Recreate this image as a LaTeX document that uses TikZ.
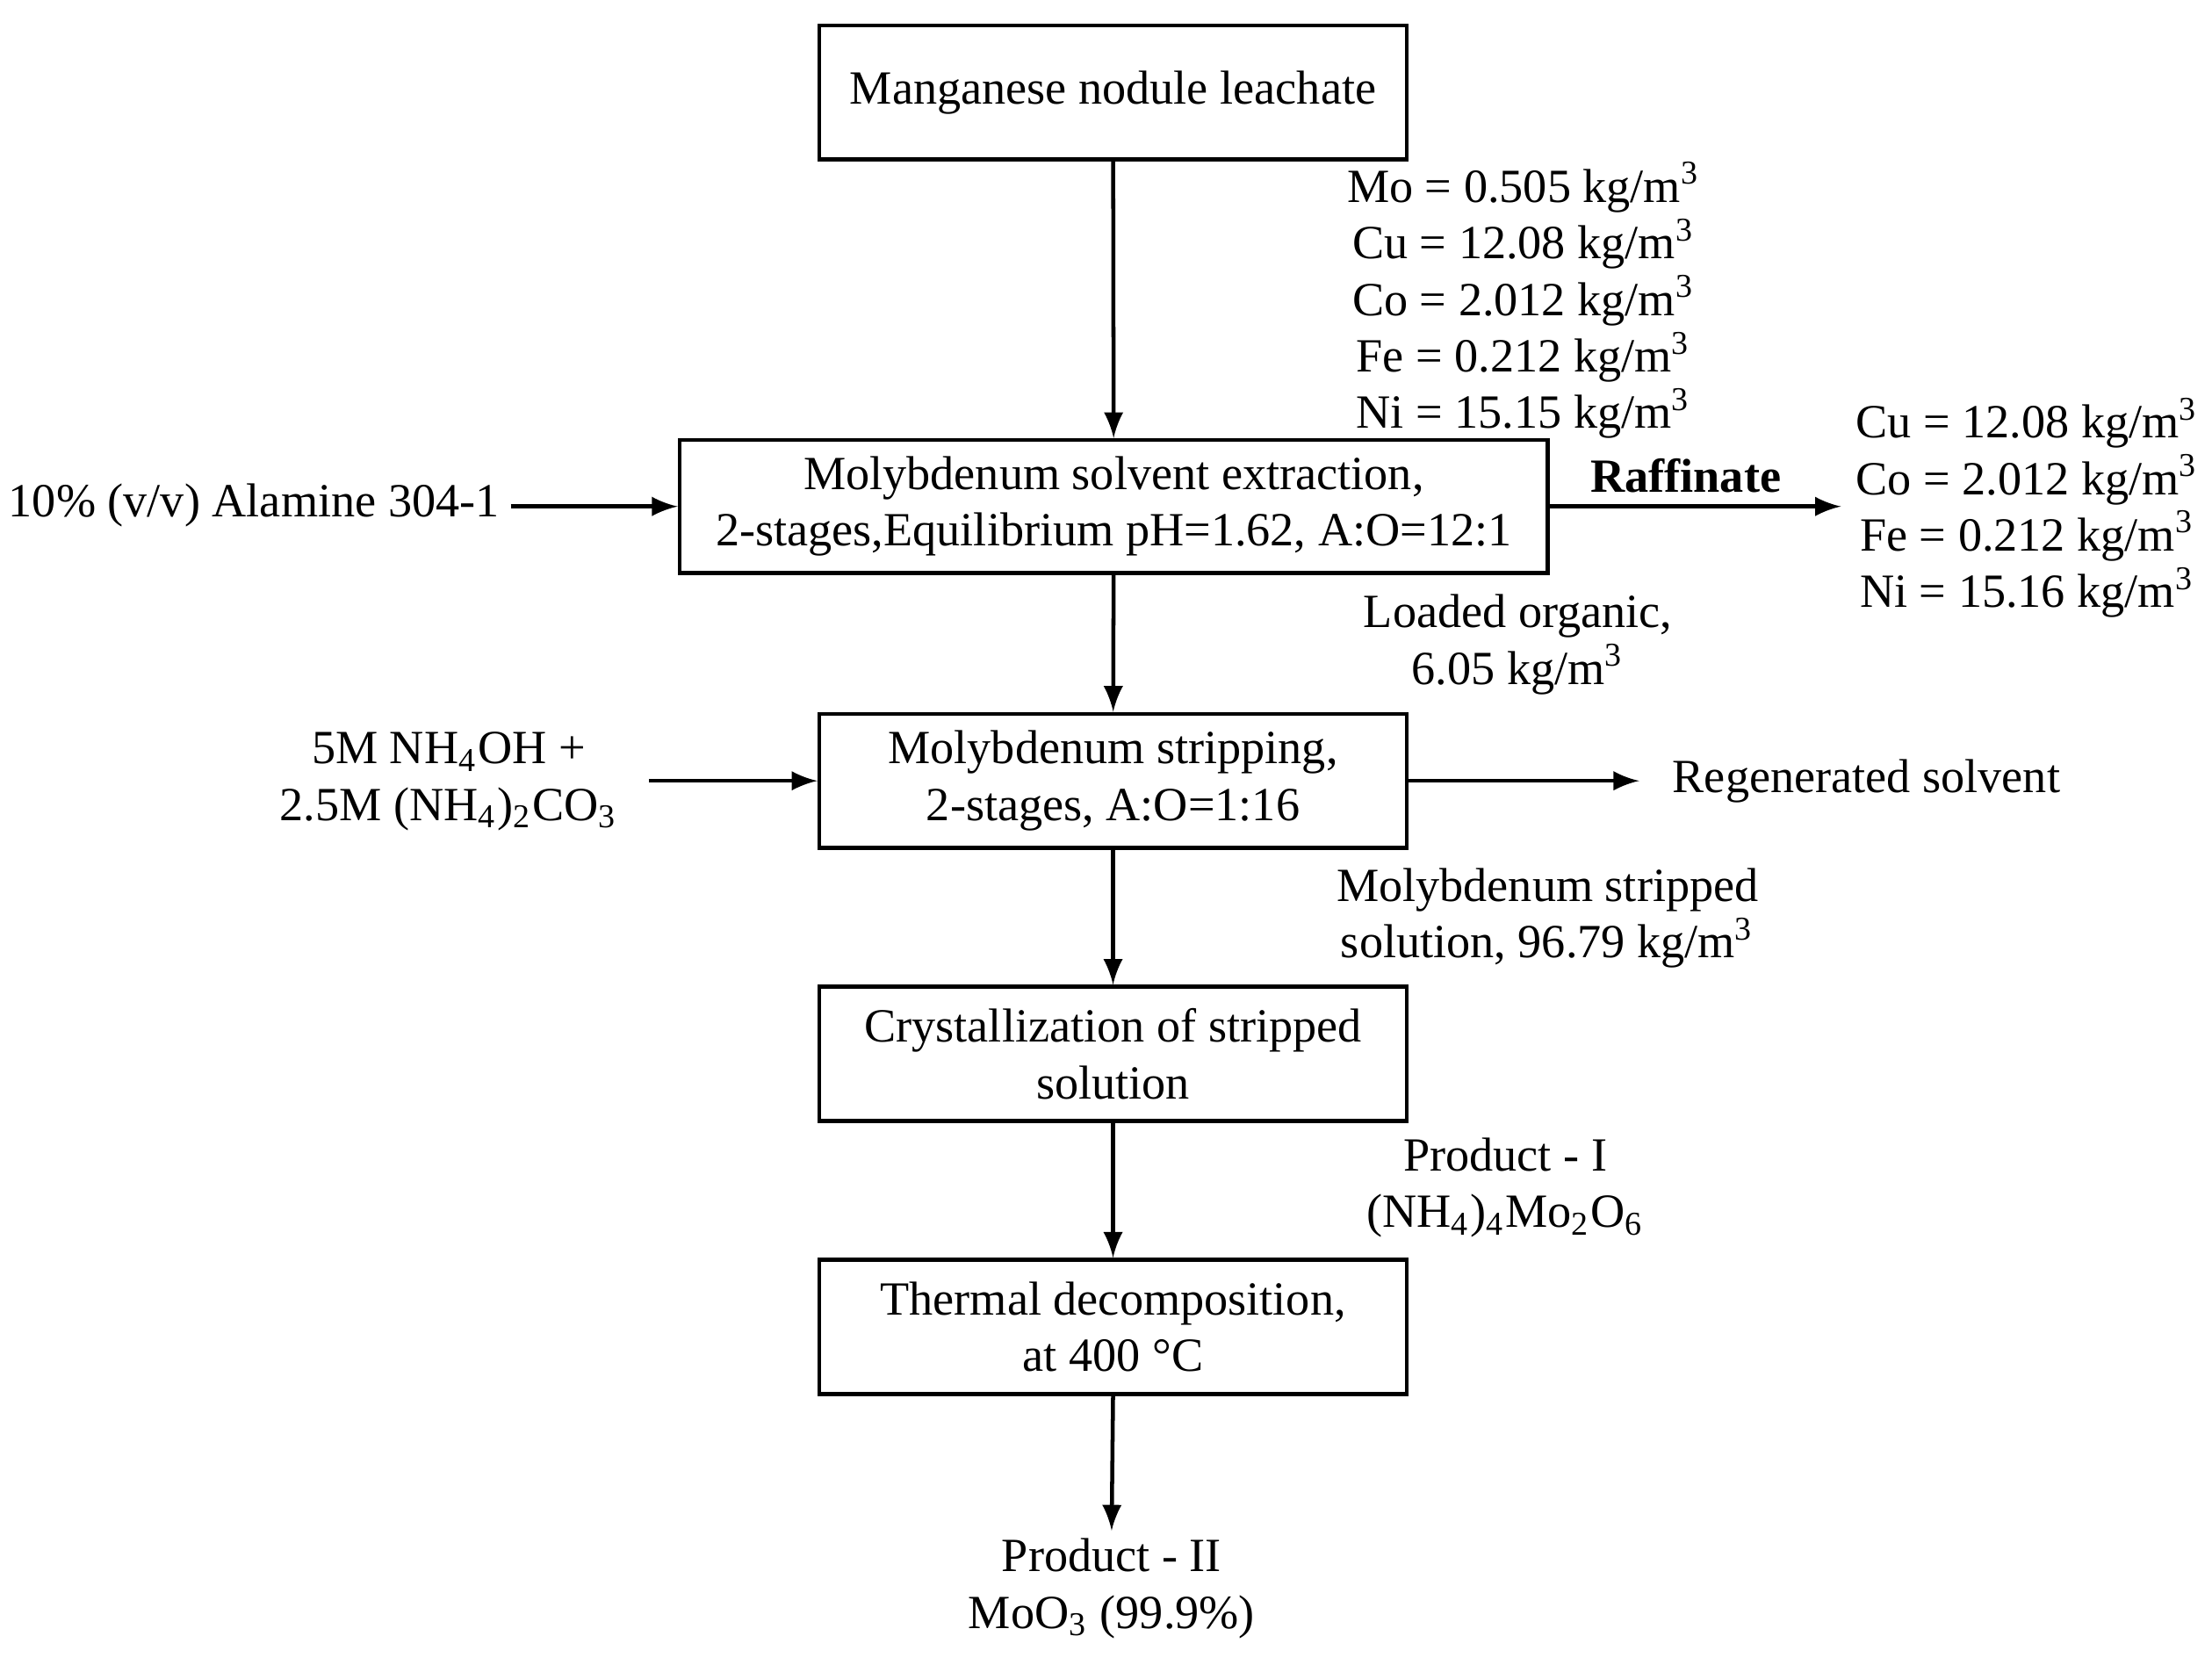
\documentclass[tikz,border=0pt]{standalone}
\usepackage{fontspec}
\setmainfont{Liberation Serif}
\begin{document}
\begin{tikzpicture}[x=0.01cm,y=-0.01cm,
  box/.style={draw,thick,minimum height=0.95cm,align=center,inner sep=0pt},
  lbl/.style={align=center,inner sep=0pt},
  arr/.style={thick,-latex},
  every node/.style={font=\fontsize{9.6pt}{11.4pt}\selectfont}]
\useasboundingbox (0,0) rectangle (1568,1180);
\node[box,minimum width=4.16cm] (b1) at (789,65.5) {Manganese nodule leachate};
\node[box,minimum width=6.15cm,minimum height=0.94cm] (b2) at (789.5,359) {Molybdenum solvent extraction,\\2-stages,Equilibrium pH=1.62, A:O=12:1};
\node[box,minimum width=4.16cm] (b3) at (789,553.5) {Molybdenum stripping,\\2-stages, A:O=1:16};
\node[box,minimum width=4.16cm] (b4) at (789,747) {Crystallization of stripped\\solution};
\node[box,minimum width=4.16cm] (b5) at (789,940.5) {Thermal decomposition,\\at 400 \textdegree C};
\node[lbl] (p2) at (788,1126) {Product - II\\MoO\textsubscript{3} (99.9\%)};
\node[lbl] (feed) at (1080,213) {Mo = 0.505 kg/m\textsuperscript{3}\\Cu = 12.08 kg/m\textsuperscript{3}\\Co = 2.012 kg/m\textsuperscript{3}\\Fe = 0.212 kg/m\textsuperscript{3}\\Ni = 15.15 kg/m\textsuperscript{3}};
\node[lbl] (alam) at (180,358) {10\% (v/v) Alamine 304-1};
\coordinate (raf) at (1305,359);
\node[lbl,font=\fontsize{9.6pt}{11.4pt}\selectfont\bfseries] (raflbl) at (1195,337) {Raffinate};
\node[lbl] (rlist) at (1437,360) {Cu = 12.08 kg/m\textsuperscript{3}\\Co = 2.012 kg/m\textsuperscript{3}\\Fe = 0.212 kg/m\textsuperscript{3}\\Ni = 15.16 kg/m\textsuperscript{3}};
\node[lbl] (lo) at (1076,457) {Loaded organic,\\6.05 kg/m\textsuperscript{3}};
\node[lbl] (nh) at (318,554) {5M NH\textsubscript{4}OH +\\2.5M (NH\textsubscript{4})\textsubscript{2}CO\textsubscript{3}};
\coordinate (regc) at (1162,553.5);
\node[lbl] (reg) at (1323,553.5) {Regenerated solvent};
\node[lbl] (ms) at (1097,651) {Molybdenum stripped\\solution, 96.79 kg/m\textsuperscript{3}};
\node[lbl] (p1) at (1067,842) {Product - I\\(NH\textsubscript{4})\textsubscript{4}Mo\textsubscript{2}O\textsubscript{6}};
\draw[arr] (b1) -- (b2);
\draw[arr] (b2) -- (b3);
\draw[arr] (b3) -- (b4);
\draw[arr] (b4) -- (b5);
\draw[arr] (b5.south) -- (788,1085);
\draw[arr] (362,359) -- (b2.west);
\draw[arr] (b2.east) -- (raf);
\draw[arr] (460,553.5) -- (b3.west);
\draw[arr] (b3.east) -- (regc);
\end{tikzpicture}
\end{document}
